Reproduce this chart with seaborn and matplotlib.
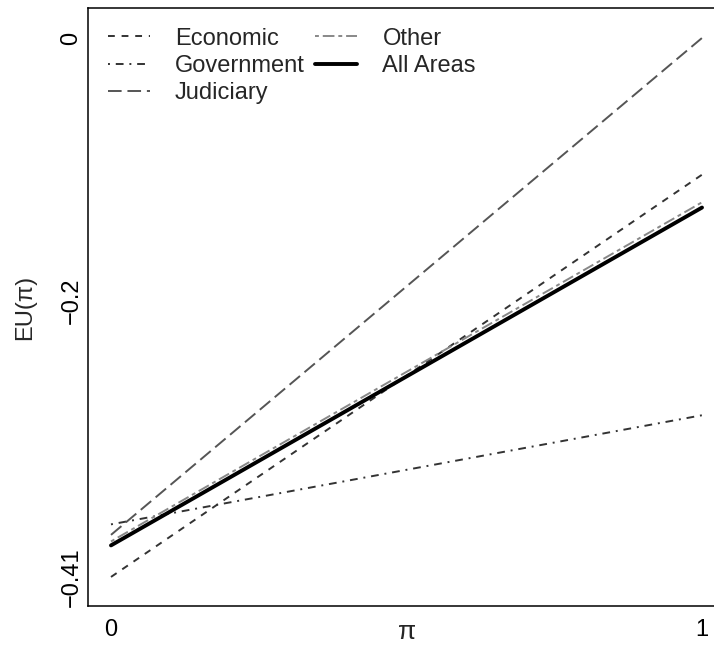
import matplotlib
matplotlib.use("Agg")
import matplotlib.pyplot as plt
import seaborn as sns
import pandas as pd

# Data
pi_values = [0.0, 1.0]
economic = [-0.410, -0.104]
government = [-0.370, -0.287]
judiciary = [-0.378, 0.000]
other = [-0.383, -0.125]
all_areas = [-0.386, -0.129]

series_names = ["Economic", "Government", "Judiciary", "Other", "All Areas"]
series_values = [economic, government, judiciary, other, all_areas]
y_ticks = [-0.41, -0.2, 0]
y_tick_labels = ["\u22120.41", "\u22120.2", "0"]
x_ticks = [0, 1]
x_tick_labels = ["0", "1"]

styles = {
    "Economic": dict(color="#333333", lw=1.4, ls=(0, (3.5, 3.5))),
    "Government": dict(color="#333333", lw=1.4, ls=(0, (1, 3, 4, 3))),
    "Judiciary": dict(color="#555555", lw=1.4, ls=(0, (7, 3))),
    "Other": dict(color="#888888", lw=1.4, ls=(0, (2, 2, 6, 2))),
    "All Areas": dict(color="#000000", lw=2.8, ls="-"),
}

sns.set_theme(style="white")
plt.rcParams["font.family"] = ["Liberation Sans", "DejaVu Sans"]

fig = plt.figure(figsize=(7.14, 6.46), dpi=100)
ax = fig.add_axes([88 / 714, 1 - 606 / 646, (726 - 88) / 714, (606 - 8) / 646])

for name, vals in zip(series_names, series_values):
    df = pd.DataFrame({"pi": pi_values, "eu": vals})
    st = styles[name]
    sns.lineplot(data=df, x="pi", y="eu", ax=ax, color=st["color"],
                 linewidth=st["lw"], linestyle=st["ls"], label=name)

ax.set_xlim(-0.0389, 1.0406)
ax.set_ylim(-0.4321, 0.0228)

ax.set_xticks(x_ticks)
ax.set_xticklabels(x_tick_labels, fontsize=17)
ax.set_yticks(y_ticks)
ax.set_yticklabels(y_tick_labels, fontsize=17, rotation=90, va="center")
ax.tick_params(axis="both", length=0, colors="black")
ax.tick_params(axis="x", pad=9)
ax.tick_params(axis="y", pad=4)

for sp in ax.spines.values():
    sp.set_color("black")
    sp.set_linewidth(1.1)

ax.set_xlabel("\u03c0", fontsize=19)
ax.set_ylabel("EU(\u03c0)", fontsize=17)
ax.xaxis.set_label_coords(0.5, -0.0435)
ax.xaxis.label.set_va("center")
ax.yaxis.set_label_coords(-0.0987, 0.5)
ax.yaxis.label.set_va("center")

leg = ax.legend(loc="upper left", bbox_to_anchor=(0.031, 0.967), ncol=2,
                frameon=False, fontsize=17, handlelength=1.78,
                handletextpad=1.06, columnspacing=0.45, labelspacing=0.22,
                borderpad=0, borderaxespad=0)

fig.savefig("out.png", dpi=100)
